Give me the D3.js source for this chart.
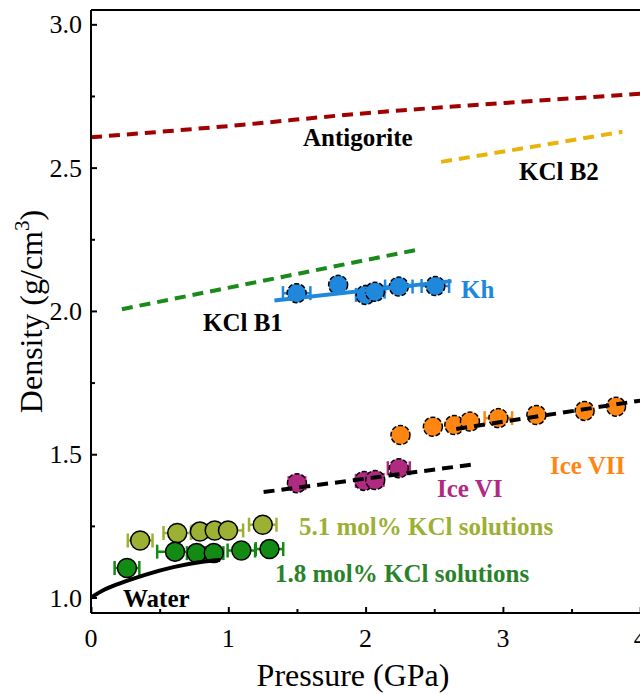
<!DOCTYPE html>
<html><head><meta charset="utf-8">
<script src="https://cdn.jsdelivr.net/npm/d3@7/dist/d3.min.js"></script>
<style>body{margin:0;background:#fff}svg{display:block}text{font-family:"Liberation Serif","Times New Roman",serif}</style>
</head><body>
<script>
// ---- data ----
const xTicks = [0, 1, 2, 3, 4];
const yTicks = [1.0, 1.5, 2.0, 2.5, 3.0];

const antigorite = [[0, 2.606], [1, 2.645], [2, 2.69], [3, 2.725], [4, 2.758], [4.5, 2.775]];
const kclB2 = [[2.55, 2.52], [3.87, 2.625]];
const kclB1 = [[0.225, 2.006], [2.36, 2.212]];
const khFit = [[1.336, 2.036], [2.626, 2.104]];
const iceVIFit = [[1.257, 1.368], [2.81, 1.466]];
const iceVIIFit = [[2.66, 1.588], [4.5, 1.724]];
const water = [[0, 1.0], [0.1, 1.028], [0.25, 1.056], [0.4, 1.08], [0.6, 1.106], [0.8, 1.124], [0.94, 1.131]];

const khP = [1.498, 1.80, 2.00, 2.068, 2.242, 2.508];
const khD = [2.062, 2.091, 2.056, 2.067, 2.085, 2.087];
const khE = [0.1, 0.0, 0.07, 0.07, 0.1, 0.1];

const iceVIP = [1.50, 1.99, 2.07, 2.242];
const iceVID = [1.399, 1.407, 1.41, 1.451];
const iceVIE = [0.06, 0.06, 0.06, 0.08];

const iceVIIP = [2.254, 2.49, 2.646, 2.76, 2.967, 3.244, 3.595, 3.824];
const iceVIID = [1.567, 1.596, 1.602, 1.614, 1.626, 1.637, 1.651, 1.666];
const iceVIIE = [0, 0.03, 0.03, 0.03, 0.1, 0.04, 0.03, 0.03];

const kcl51P = [0.358, 0.628, 0.793, 0.901, 0.998, 1.251];
const kcl51D = [1.199, 1.225, 1.230, 1.234, 1.234, 1.254];
const kcl51E = [0.09, 0.1, 0.06, 0.06, 0.11, 0.1];

const kcl18P = [0.262, 0.612, 0.769, 0.894, 1.095, 1.30];
const kcl18D = [1.103, 1.160, 1.155, 1.155, 1.164, 1.169];
const kcl18E = [0.09, 0.13, 0.07, 0.07, 0.1, 0.1];

// ---- drawing ----
const W = 640, H = 694;
const L = 91, T = 10, B = 613;
const FONT = "Liberation Serif";
const svg = d3.select("body").append("svg").attr("width", W).attr("height", H);

const x = d3.scaleLinear().domain([0, 4.5]).range([L, L + 4.5 * 137.3]);
const y = d3.scaleLinear().domain([0.946, 3.05]).range([B, T]);

svg.append("defs").append("clipPath").attr("id", "c")
  .append("rect").attr("x", L).attr("y", T).attr("width", W - L).attr("height", B - T);
const plot = svg.append("g").attr("clip-path", "url(#c)");
const line = d3.line().x(d => x(d[0])).y(d => y(d[1]));
const curve = d3.line().x(d => x(d[0])).y(d => y(d[1])).curve(d3.curveMonotoneX);

function dashed(data, color) {
  plot.append("path").attr("d", curve(data)).attr("fill", "none")
    .attr("stroke", color).attr("stroke-width", 4).attr("stroke-dasharray", "11,7");
}
dashed(antigorite, "#a00000");
dashed(kclB2, "#e8b40c");
dashed(kclB1, "#1a8a1a");

function points(P, D, E, color, dash) {
  const g = plot.append("g");
  P.forEach((p, i) => {
    if (E[i] > 0) {
      const x0 = x(p - E[i]), x1 = x(p + E[i]), yy = y(D[i]);
      g.append("line").attr("x1", x0).attr("x2", x1).attr("y1", yy).attr("y2", yy)
        .attr("stroke", color).attr("stroke-width", 2.5);
      [x0, x1].forEach(xx => g.append("line").attr("x1", xx).attr("x2", xx)
        .attr("y1", yy - 7).attr("y2", yy + 7).attr("stroke", color).attr("stroke-width", 2.5));
    }
  });
  P.forEach((p, i) => {
    g.append("circle").attr("cx", x(p)).attr("cy", y(D[i])).attr("r", 9.5)
      .attr("fill", color).attr("stroke", "#000").attr("stroke-width", 1.5)
      .attr("stroke-dasharray", dash ? "5,2" : null);
  });
}
points(kcl51P, kcl51D, kcl51E, "#9cb034", false);
points(kcl18P, kcl18D, kcl18E, "#138a13", false);
points(khP, khD, khE, "#2088dc", true);
points(iceVIP, iceVID, iceVIE, "#b12a82", true);
points(iceVIIP, iceVIID, iceVIIE, "#ff8612", true);

plot.append("path").attr("d", line(khFit)).attr("fill", "none").attr("stroke", "#2088dc").attr("stroke-width", 4);
dashed(iceVIFit, "#000");
dashed(iceVIIFit, "#000");
plot.append("path").attr("d", curve(water)).attr("fill", "none").attr("stroke", "#000").attr("stroke-width", 4);

// axes frame
svg.append("line").attr("x1", L).attr("x2", L).attr("y1", T).attr("y2", B).attr("stroke", "#000").attr("stroke-width", 2);
svg.append("line").attr("x1", L).attr("x2", W).attr("y1", B).attr("y2", B).attr("stroke", "#000").attr("stroke-width", 2);
svg.append("line").attr("x1", L).attr("x2", W).attr("y1", T).attr("y2", T).attr("stroke", "#000").attr("stroke-width", 2);

const xAxis = d3.axisBottom(x).tickValues(d3.range(0, 4.51, 0.5)).tickSize(-6).tickFormat("");
svg.append("g").attr("transform", `translate(0,${B})`).call(xAxis)
  .call(g => { g.select(".domain").remove(); g.selectAll("line").attr("stroke-width", 2);
    g.selectAll(".tick").filter(d => Math.abs(d % 1) > 0.01).select("line").attr("y2", -4); });
const yAxis = d3.axisLeft(y).tickValues(d3.range(1.0, 3.01, 0.25)).tickSize(-6).tickFormat("");
svg.append("g").attr("transform", `translate(${L},0)`).call(yAxis)
  .call(g => { g.select(".domain").remove(); g.selectAll("line").attr("stroke-width", 2);
    g.selectAll(".tick").filter(d => Math.abs((d * 2) % 1) > 0.01).select("line").attr("x2", 4); });

svg.append("g").selectAll("text").data(xTicks).join("text")
  .attr("x", d => x(d)).attr("y", 647).attr("text-anchor", "middle")
  .attr("font-family", FONT).attr("font-size", 26).text(d => d);
svg.append("g").selectAll("text").data(yTicks).join("text")
  .attr("x", 82).attr("y", d => y(d)).attr("dy", "0.35em").attr("text-anchor", "end")
  .attr("font-family", FONT).attr("font-size", 26).text(d => d.toFixed(1));

svg.append("text").attr("x", 353).attr("y", 686).attr("text-anchor", "middle")
  .attr("font-family", FONT).attr("font-size", 32).text("Pressure (GPa)");
const yl = svg.append("text").attr("transform", `translate(42,${(T + B) / 2}) rotate(-90)`)
  .attr("text-anchor", "middle").attr("font-family", FONT).attr("font-size", 32);
yl.append("tspan").text("Density (g/cm");
yl.append("tspan").attr("font-size", 21).attr("dy", -13).text("3");
yl.append("tspan").attr("dy", 13).text(")");

// annotations
function lab(t, px, py, color) {
  svg.append("text").attr("x", px).attr("y", py).attr("font-family", FONT).attr("font-size", 25)
    .attr("font-weight", "bold").attr("fill", color).text(t);
}
lab("Antigorite", 303, 146, "#000");
lab("KCl B2", 519, 180, "#000");
lab("KCl B1", 203, 331, "#000");
lab("Kh", 461, 298, "#2088dc");
lab("Ice VII", 550, 474, "#ff8612");
lab("Ice VI", 437, 497, "#b12a82");
lab("5.1 mol% KCl solutions", 299, 535, "#9cb034");
lab("1.8 mol% KCl solutions", 275, 582, "#2a822a");
lab("Water", 123, 607, "#000");
</script>
</body></html>
